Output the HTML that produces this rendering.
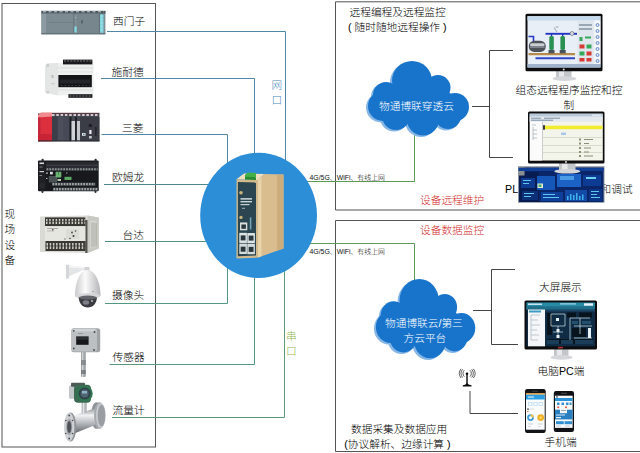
<!DOCTYPE html>
<html lang="zh-CN">
<head>
<meta charset="utf-8">
<title>物通博联 工业物联网拓扑图</title>
<style>
html,body{margin:0;padding:0;background:#fff;}
body{width:640px;height:453px;overflow:hidden;}
svg{display:block;}
text{font-family:"Liberation Sans","Noto Sans CJK SC",sans-serif;font-weight:300;}
.lb{font-size:10.7px;fill:#000;font-weight:300;}
.sm{font-size:6.9px;fill:#111;font-weight:300;}
.wh{font-size:10.7px;fill:#fff;font-weight:300;}
.rd{font-size:10.7px;fill:#d12b2b;}
.fr{fill:none;stroke:#555;stroke-width:1;}
.bk{fill:none;stroke:#444;stroke-width:1;}
</style>
</head>
<body>
<svg width="640" height="453" viewBox="0 0 640 453">
<rect x="0" y="0" width="640" height="453" fill="#ffffff"/>

<!-- ===== frames ===== -->
<g id="frames">
<rect class="fr" x="2" y="3.5" width="153.5" height="443.5" stroke-width="1.2"/>
<path class="fr" d="M640 1.800H335.500V210H640"/>
<path class="fr" d="M640 220.5H335.5V451.5H640"/>
</g>

<!-- ===== wires ===== -->
<g id="wires" fill="none" stroke-width="1">
<path d="M107 31.500H285.500V170" stroke="#5086a6"/>
<path d="M101 78.500H254.500V160" stroke="#5086a6"/>
<path d="M101.500 134.500H227.500V170" stroke="#5086a3"/>
<path d="M104 184.500H210" stroke="#4c8693"/>
<path d="M105 241.500H210" stroke="#4f9189"/>
<path d="M105 303.500H227.500V260" stroke="#549583"/>
<path d="M109.500 364.500H254.500V270" stroke="#59977e"/>
<path d="M112 417.500H284.500V260" stroke="#5e987a"/>
<path d="M300 181.500H414.500V134" stroke="#5d9a5a"/>
<path d="M300 243.500H414.500V282" stroke="#5d9a5a"/>
</g>

<!-- ===== centre circle ===== -->
<ellipse cx="258.600" cy="215.400" rx="58.400" ry="62.600" fill="#2d8ed8"/>
<g id="gateway" transform="translate(0,172) scale(1,1.009) translate(0,-172)">
<!-- top face -->
<polygon points="236.500,179.300 258,180 264.500,174 244,173.600" fill="#f0dfbc"/>
<!-- side face -->
<polygon points="258,180 264.500,174 283.500,174.600 283.500,247.800 258,256.800" fill="#d9bd8e"/>
<polygon points="258,180 261.500,176.800 261.500,255.500 258,256.800" fill="#ead4aa"/>
<polygon points="277,174.400 283.500,174.600 283.500,247.800 277,250.100" fill="#ccae7e"/>
<!-- front face -->
<polygon points="236.500,179.300 258,180 258,256.800 236.500,257.700" fill="#d2ba8c"/>
<polygon points="237.900,182 256,182.500 256,254.800 237.900,255.500" fill="#2b4650"/>
<!-- green terminal -->
<polygon points="245,174.800 248,172.400 256,173 256,179.600 245,179.200" fill="#43b04a"/>
<polygon points="245,176.800 256,177.300 256,179.900 245,179.500" fill="#2b8a34"/>
<!-- antenna connectors -->
<circle cx="241" cy="192.600" r="1.800" fill="#c9b47a"/>
<circle cx="241" cy="217" r="1.700" fill="#c9b47a"/>
<!-- led labels -->
<rect x="240.500" y="198" width="11.500" height="1.300" fill="#e6eef0"/>
<rect x="240.500" y="200.800" width="11.500" height="1.300" fill="#d3dee2"/>
<rect x="240.500" y="203.700" width="9" height="1.200" fill="#c3d0d4"/>
<rect x="242" y="207.500" width="3" height="1" fill="#9fb0b6"/>
<!-- ports -->
<rect x="240" y="222" width="7.300" height="7.800" fill="#d9dfdf"/>
<rect x="241.400" y="224" width="4.500" height="4.300" fill="#2a383e"/>
<rect x="239.300" y="232.300" width="7.600" height="10" fill="#dfe4e4"/>
<rect x="247.300" y="232.500" width="7.600" height="10" fill="#dfe4e4"/>
<rect x="239.300" y="243" width="7.600" height="10.300" fill="#d5dbdb"/>
<rect x="247.300" y="243.200" width="7.600" height="10.300" fill="#d5dbdb"/>
<rect x="240.700" y="234.800" width="4.800" height="5" fill="#2a383e"/>
<rect x="248.700" y="235" width="4.800" height="5" fill="#2a383e"/>
<rect x="240.700" y="246" width="4.800" height="5" fill="#2a383e"/>
<rect x="248.700" y="246.200" width="4.800" height="5" fill="#2a383e"/>
<rect x="249.800" y="217" width="1.600" height="12" fill="#7fb7c9" opacity="0.85"/>
</g>

<!-- ===== clouds ===== -->
<g id="cloud1">
<g fill="#86b6e6" transform="translate(-2,1.5)"><circle cx="412" cy="81" r="20"/><circle cx="438" cy="87.500" r="12.500"/><circle cx="386" cy="95" r="13"/><circle cx="383" cy="106" r="15"/><circle cx="455" cy="107" r="14"/><circle cx="396" cy="116" r="14"/><circle cx="423" cy="119.500" r="16"/><circle cx="448" cy="116" r="13"/><ellipse cx="418" cy="104" rx="38" ry="20"/></g>
<g fill="#1874cb"><circle cx="412" cy="81" r="20"/><circle cx="438" cy="87.500" r="12.500"/><circle cx="386" cy="95" r="13"/><circle cx="383" cy="106" r="15"/><circle cx="455" cy="107" r="14"/><circle cx="396" cy="116" r="14"/><circle cx="423" cy="119.500" r="16"/><circle cx="448" cy="116" r="13"/><ellipse cx="418" cy="104" rx="38" ry="20"/></g>
<text class="wh" x="379" y="110">物通博联穿透云</text>
</g>
<g id="cloud2">
<g transform="translate(7.900,218) translate(367,61) scale(0.984,1.065) translate(-367,-61)">
<g fill="#86b6e6" transform="translate(-2,1.5)"><circle cx="412" cy="81" r="20"/><circle cx="438" cy="87.500" r="12.500"/><circle cx="386" cy="95" r="13"/><circle cx="383" cy="106" r="15"/><circle cx="455" cy="107" r="14"/><circle cx="396" cy="116" r="14"/><circle cx="423" cy="119.500" r="16"/><circle cx="448" cy="116" r="13"/><ellipse cx="418" cy="104" rx="38" ry="20"/></g>
<g fill="#1874cb"><circle cx="412" cy="81" r="20"/><circle cx="438" cy="87.500" r="12.500"/><circle cx="386" cy="95" r="13"/><circle cx="383" cy="106" r="15"/><circle cx="455" cy="107" r="14"/><circle cx="396" cy="116" r="14"/><circle cx="423" cy="119.500" r="16"/><circle cx="448" cy="116" r="13"/><ellipse cx="418" cy="104" rx="38" ry="20"/></g>
</g>
<text class="wh" x="385" y="327.200">物通博联云/第三</text>
<text class="wh" x="403.500" y="342">方云平台</text>
</g>

<!-- ===== brackets ===== -->
<g id="brackets">
<path class="bk" d="M513 50.5H489.5V157.5H513"/>
<path class="bk" d="M472 106.5H489.5"/>
<path class="bk" d="M515 269.5H491.5V344.5H518"/>
<path class="bk" d="M473 310.5H491.5"/>
<path class="bk" d="M470 391V413.500H518" stroke="#666"/>
</g>

<!-- ===== devices ===== -->
<g id="devices">
<defs>
<linearGradient id="steel" x1="0" y1="0" x2="0" y2="1"><stop offset="0" stop-color="#8a8f94"/><stop offset=".3" stop-color="#f0f1f2"/><stop offset=".65" stop-color="#a9adb2"/><stop offset="1" stop-color="#5f6368"/></linearGradient>
<linearGradient id="dome" x1="0" y1="0" x2="1" y2="0"><stop offset="0" stop-color="#c9c9cb"/><stop offset=".4" stop-color="#fbfbfb"/><stop offset="1" stop-color="#b5b5b8"/></linearGradient>
</defs>
<!-- siemens -->
<g id="d1">
<rect x="41.400" y="11" width="64" height="23.300" fill="#7f8e95"/>
<rect x="41.400" y="10.800" width="64" height="2.800" fill="#4c585e"/>
<path d="M43 11.800H104" stroke="#c5ced2" stroke-width="1" stroke-dasharray="3 2.500" fill="none"/>
<rect x="41.400" y="32.800" width="64" height="1.500" fill="#66747a"/>
<rect x="41.400" y="13.600" width="4.600" height="19.200" fill="#8c9ba1"/>
<rect x="46" y="13.600" width="27.500" height="19.200" fill="#7c8b92"/>
<rect x="49" y="22" width="24" height=".7" fill="#6d7b82"/>
<rect x="76.800" y="13.600" width="22" height="19.200" fill="#77868d"/>
<rect x="73.500" y="13.600" width=".8" height="19.200" fill="#5b686e"/>
<rect x="98.900" y="13.600" width=".8" height="19.200" fill="#5b686e"/>
<rect x="74.400" y="26.500" width="2.300" height="6" fill="#86d9e2"/>
<rect x="100" y="14.400" width="3.500" height="18.400" fill="#7fd3de"/>
<path d="M101.700 15V32.500" stroke="#b8ecf1" stroke-width=".8" stroke-dasharray="2 1.500" fill="none"/>
<rect x="81.500" y="20" width="1" height="3.500" fill="#3c474c"/>
<rect x="74.500" y="17" width="2" height="1" fill="#9aa8ae"/>
</g></g>
<!-- schneider -->
<g id="d2">
<polygon points="45,66.500 47,63.500 58,63 93.600,64 93.600,94.500 58,95.400 45,92.500" fill="#eef0f0"/>
<polygon points="45,66.500 47,63.500 58,63 58,95.400 45,92.500" fill="#e4e6e6"/>
<rect x="63" y="59.600" width="29.400" height="4.800" fill="#1a1a1c"/>
<path d="M64 61H92" stroke="#77787c" stroke-width="1.200" stroke-dasharray="2 1.200" fill="none"/>
<rect x="58.400" y="75" width="33.400" height="12.200" fill="#141416"/>
<rect x="60" y="79.500" width="30" height="4" fill="#23252a"/>
<path d="M61 85.500H90" stroke="#3d4046" stroke-width="1" stroke-dasharray="1.500 2" fill="none"/>
<rect x="68.400" y="94.200" width="24" height="3.600" fill="#1a1a1c"/>
<path d="M69.500 96H92" stroke="#77787c" stroke-width="1.200" stroke-dasharray="2 1.200" fill="none"/>
<rect x="58" y="67.500" width="35" height=".8" fill="#d5d8d8"/>
<rect x="58" y="71.500" width="35" height=".8" fill="#dcdfdf"/>
<rect x="58" y="89.500" width="35" height=".8" fill="#d5d8d8"/>
<rect x="46.500" y="64" width="2.500" height="3" fill="#c9cccc"/>
<rect x="46.500" y="91" width="2.500" height="2.500" fill="#c9cccc"/>
<rect x="51.500" y="75" width="2" height="3" fill="#b9bcbc"/>
<rect x="51.500" y="83" width="3" height="1.200" fill="#c4c7c7"/>
</g></g>
<!-- mitsubishi -->
<g id="d3">
<rect x="38" y="113.500" width="61.400" height="27.700" fill="#454853"/>
<path d="M52 114.700H99" stroke="#d9c9cd" stroke-width="2.400" stroke-dasharray="2.500 1.800" fill="none"/>
<rect x="52" y="112.800" width="47.400" height="1.200" fill="#5a3a42"/>
<polygon points="38,115 41,112.800 52,112.800 52,141.200 38,141.200" fill="#dc2f3e"/>
<polygon points="38,115 41,112.800 52,112.800 52,116.500 38,117.500" fill="#f08a8e"/>
<rect x="38" y="117.500" width="2.500" height="23.700" fill="#c4283a"/>
<rect x="38" y="134" width="14" height="7.200" fill="#c72536"/>
<rect x="52" y="117" width="5.500" height="24.200" fill="#3c3f4a"/>
<rect x="58" y="117" width="5.500" height="24.200" fill="#4d505c"/>
<rect x="64" y="117" width="5.500" height="24.200" fill="#474a56"/>
<rect x="69.500" y="117" width="2" height="24.200" fill="#1c1d22"/>
<rect x="71.500" y="121" width="3.600" height="19.600" fill="#cfd3d7"/>
<rect x="75.100" y="117" width="1.800" height="24.200" fill="#1c1d22"/>
<rect x="76.900" y="121" width="3.200" height="19.600" fill="#c3c7cc"/>
<rect x="80.100" y="117" width="19.300" height="24.200" fill="#3a3c46"/>
<rect x="82" y="133" width="3.600" height="2.800" fill="#e3e6e9"/>
<rect x="83" y="133.800" width="1.600" height="1.200" fill="#4a7a8a"/>
<rect x="88.800" y="124" width="3" height="3" fill="#1e1f24"/>
<rect x="89.300" y="130" width="2.200" height="4" fill="#eceef0"/>
<rect x="89" y="136" width="2.800" height="2.500" fill="#bfc3c8"/>
<rect x="95" y="127" width="1.600" height="9" fill="#23242a"/>
<rect x="38" y="140.400" width="61.400" height="1" fill="#2a2c31"/>
</g></g>
<!-- omron -->
<g id="d4">
<rect x="38" y="160.500" width="60.700" height="30.800" rx="1" fill="#17191c"/>
<rect x="41.500" y="158.800" width="2.200" height="3" rx="1" fill="#2c2e32"/><rect x="94.500" y="158.800" width="2.200" height="3" rx="1" fill="#2c2e32"/>
<rect x="41.500" y="190" width="2" height="3" rx="1" fill="#2c2e32"/><rect x="94.500" y="190" width="2" height="3" rx="1" fill="#2c2e32"/>
<rect x="46" y="162" width="52" height="5.500" fill="#26292d"/>
<rect x="46" y="164.800" width="52" height=".8" fill="#4a4e53"/>
<rect x="46" y="167.500" width="52" height="3.300" fill="#33373b"/>
<path d="M46.500 169.200H97.500" stroke="#8d9294" stroke-width="2" stroke-dasharray="1.700 1.100" fill="none"/>
<rect x="52" y="182.500" width="43.500" height="3.400" fill="#3a3e42"/>
<path d="M52.500 184.200H95" stroke="#a2a7a8" stroke-width="2.200" stroke-dasharray="1.700 1.100" fill="none"/>
<rect x="53" y="187.500" width="45.500" height="3.400" fill="#3a3e42"/>
<path d="M53.500 189.200H98" stroke="#a2a7a8" stroke-width="2.200" stroke-dasharray="1.700 1.100" fill="none"/>
<rect x="38.500" y="161.500" width="7" height="28" fill="#1f2124"/>
<rect x="39.500" y="162.500" width="4.500" height="1.600" fill="#d5d7d9"/>
<rect x="39.500" y="166.500" width="3" height="1" fill="#7a7d81"/>
<rect x="39.500" y="171" width="4.500" height="1.200" fill="#c9cbce"/>
<rect x="39.500" y="175" width="2.500" height="1" fill="#7a7d81"/>
<rect x="39.500" y="183" width="5" height="5" fill="#26282c"/>
<rect x="48.800" y="176" width="8.200" height="6.500" fill="#4a5256"/>
<rect x="50" y="171.800" width="2.800" height="2.600" fill="#dfe2e4"/>
<rect x="55.600" y="171.800" width="5.700" height="5.600" rx=".6" fill="#6ab573"/>
<rect x="58" y="172" width=".7" height="2.500" fill="#2f6b3a"/>
<rect x="57.500" y="179" width="3.500" height="2" fill="#b9c9b4"/>
<rect x="64.500" y="176.800" width="7" height="3.200" fill="#5aa864"/>
<rect x="66" y="172.500" width="1.500" height="1" fill="#9a9da0"/>
<rect x="46" y="172.500" width="2" height="1.200" fill="#b9bcbf"/>
<rect x="46" y="178" width="1.500" height="1" fill="#b9bcbf"/>
</g></g>
<!-- delta -->
<g id="d5">
<polygon points="40,216.500 87.500,215.500 98.800,217.500 98.800,248.500 87.500,253 40,252" fill="#dadad5"/>
<polygon points="87.500,215.500 98.800,217.500 98.800,248.500 87.500,253" fill="#c9c9c4"/>
<polygon points="90.500,221 96.500,221.800 96.500,246 90.500,248.500" fill="#e2e2dc"/>
<g stroke="#8f908b" stroke-width=".8"><path d="M92 222V247.500M94 222.300V246.800M96 222.600V246"/></g>
<rect x="85.300" y="220" width="2.200" height="33" fill="#55544f"/>
<rect x="45" y="217.400" width="40.300" height="8.800" fill="#3b3935"/>
<path d="M46 221.500H85" stroke="#d0cfc6" stroke-width="5" stroke-dasharray="1.500 1.700" fill="none"/>
<rect x="45" y="220.800" width="40.300" height="1.200" fill="#3b3935" opacity=".55"/>
<rect x="45.500" y="241" width="40" height="10" fill="#3b3935"/>
<path d="M46.500 246H85" stroke="#d0cfc6" stroke-width="6" stroke-dasharray="1.500 1.700" fill="none"/>
<rect x="45.500" y="245.300" width="40" height="1.300" fill="#3b3935" opacity=".55"/>
<rect x="45" y="226.200" width="40.300" height="14.800" fill="#e6e6e1"/>
<rect x="47" y="228" width="11" height=".9" fill="#a4a49d"/>
<rect x="47" y="230.500" width="7" height=".9" fill="#b4b4ad"/>
<rect x="66" y="229" width="13" height="10" fill="#dcdcd6"/>
<circle cx="72" cy="232.500" r=".9" fill="#4a4a45"/><circle cx="75.500" cy="231" r=".8" fill="#4a4a45"/><circle cx="73.500" cy="236" r="1" fill="#3a3a36"/><circle cx="70" cy="238.500" r=".8" fill="#55554f"/><circle cx="65" cy="239" r=".7" fill="#6a6a64"/>
<rect x="52" y="229" width="1.500" height="1.500" fill="#6a6a64"/>
</g></g>
<!-- camera -->
<g id="d6">
<polygon points="66,264.700 69,264.700 69,278.600 66,278.600" fill="#d5d6d9"/>
<polygon points="69,265.500 83,267 89,268 89,270.500 83,270 69,276.500" fill="#e4e5e7"/>
<polygon points="69,265.500 83,267 89,268 83,268.600 69,267.500" fill="#f4f4f5"/>
<rect x="84.500" y="267" width="5" height="4.500" fill="#d2d3d6"/>
<path d="M75 296C75 282 80 270 87.500 270C95 270 100.500 282 100.500 296Z" fill="url(#dome)"/>
<ellipse cx="87.700" cy="296" rx="12.700" ry="2.800" fill="#d6d6d9"/>
<path d="M78.700 297.500C79 303.500 82.500 307.500 87.800 307.500C93 307.500 96.600 303.500 96.900 297.500Z" fill="#3b3c42"/>
<ellipse cx="87.800" cy="297.600" rx="9.100" ry="2" fill="#63646b"/>
<ellipse cx="86" cy="302.500" rx="3.200" ry="2.200" fill="#7d7f88"/>
<circle cx="92" cy="301" r=".9" fill="#c9cad0"/>
<circle cx="93" cy="291.500" r=".6" fill="#77787d"/>
</g></g>
<!-- sensor -->
<g id="d7">
<rect x="81" y="350" width="4.800" height="27" rx="1" fill="#a1a5a8"/>
<rect x="82" y="350" width="1.300" height="27" fill="#d2d4d6"/>
<rect x="81" y="360" width="4.800" height="5" fill="#7d8184" opacity=".8"/>
<rect x="81" y="370" width="4.800" height="4" fill="#6f7376" opacity=".8"/>
<rect x="71.400" y="328.200" width="28.800" height="24" rx="2.500" fill="#9fa3a5"/>
<rect x="71.400" y="328.200" width="25.600" height="23.300" rx="2.500" fill="#bcc0c2"/>
<rect x="73" y="329.200" width="22" height="2" rx="1" fill="#d3d6d7"/>
<rect x="76.200" y="336.400" width="12.400" height="8.400" fill="#16181b"/>
<rect x="77" y="337.200" width="10.800" height="2.500" fill="#2d3136"/>
<rect x="78" y="333" width="5" height=".8" fill="#8c9092"/>
<circle cx="73.800" cy="330.800" r=".9" fill="#44474a"/><circle cx="94.500" cy="332" r=".9" fill="#44474a"/>
<circle cx="73.800" cy="348.500" r=".9" fill="#44474a"/><circle cx="94" cy="350" r=".9" fill="#44474a"/>
</g></g>
<!-- flow meter -->
<g id="d8">
<ellipse cx="96.500" cy="415.500" rx="5.500" ry="13.300" fill="#8f9398"/>
<polygon points="71,416.500 97,407.500 99,423.500 73,434" fill="url(#steel)"/>
<ellipse cx="99.500" cy="415.500" rx="5.500" ry="13.300" fill="#a7abb0"/>
<ellipse cx="100.800" cy="415.500" rx="4.800" ry="12.300" fill="#c9ccd0"/>
<ellipse cx="101.500" cy="415.500" rx="3.800" ry="10.800" fill="#9a9ea3"/>
<rect x="81.600" y="400" width="5.200" height="13" fill="#b3b7bb"/>
<rect x="82.800" y="400" width="1.500" height="13" fill="#e3e5e7"/>
<rect x="69" y="385.400" width="7.500" height="13.300" rx="1.500" fill="#c3c6c9"/>
<rect x="71" y="382.800" width="14" height="4" rx="1" fill="#4d5a55"/>
<rect x="74" y="384.800" width="17" height="18" rx="4" fill="#3c6a54"/>
<circle cx="84.600" cy="393.500" r="8.100" fill="#2e7550"/>
<circle cx="84.600" cy="393.500" r="6" fill="#31424a"/>
<circle cx="84.600" cy="393.500" r="4" fill="#4f6672"/>
<rect x="82" y="391" width="5" height="2.500" fill="#8fb2c4"/>
<ellipse cx="70.500" cy="427" rx="5.800" ry="14.600" fill="#8f9398"/>
<ellipse cx="69.200" cy="427" rx="5.200" ry="14.300" fill="#cfd2d5"/>
<ellipse cx="69.200" cy="427" rx="3" ry="8.500" fill="#a4a8ac"/>
<ellipse cx="69.200" cy="427" rx="2.100" ry="6" fill="#4f5257"/>
<g fill="#44474c"><circle cx="69.200" cy="415.500" r=".9"/><circle cx="69.200" cy="438.500" r=".9"/><circle cx="65.800" cy="420.500" r=".8"/><circle cx="65.800" cy="433.500" r=".8"/><circle cx="72.500" cy="420.500" r=".8"/><circle cx="72.500" cy="433.500" r=".8"/></g>
</g></g>
</g>
</g>

<!-- ===== monitors ===== -->
<g id="monitors">
<!-- monitor 1 : SCADA screen -->
<g id="mon1">
<rect x="556" y="70" width="15.500" height="8" fill="#c4c7ca"/>
<rect x="559" y="70" width="5" height="8" fill="#e6e8ea"/>
<ellipse cx="564.500" cy="78.600" rx="12" ry="2.400" fill="#d4d6d9"/>
<rect x="525.500" y="13.700" width="77" height="57.600" rx="1.500" fill="#0d0d0f"/>
<rect x="527.500" y="16.200" width="73" height="51.300" fill="#e9eff6"/>
<rect x="527.500" y="16.200" width="73" height="4.300" fill="#c6daee"/>
<rect x="527.500" y="64" width="73" height="3.500" fill="#9fb4cc"/>
<rect x="577.500" y="20.500" width="16" height="43.500" fill="#dfe6ee"/>
<rect x="594.500" y="20.500" width="6" height="43.500" fill="#f6f8fa"/>
<!-- pipes -->
<path d="M528.500 36.500H533.500V41" fill="none" stroke="#2a3ac8" stroke-width="1.600"/>
<path d="M545.500 33.800H577" fill="none" stroke="#2434c4" stroke-width="1.900"/>
<path d="M551.500 33.800V38M562.700 33.800V38" fill="none" stroke="#2434c4" stroke-width="1.300"/>
<path d="M528.600 54.200H575" fill="none" stroke="#b58a4a" stroke-width="2.300"/>
<path d="M535.500 58.200H575" fill="none" stroke="#3046c8" stroke-width="2"/>
<!-- tank -->
<rect x="528.800" y="40.700" width="17" height="11.200" rx="5.500" fill="#4d5158"/>
<rect x="530" y="43.300" width="14.600" height="3" rx="1.500" fill="#c9ced3"/>
<rect x="530" y="46.300" width="14.600" height="1.500" fill="#8a9099"/>
<!-- pumps -->
<rect x="549.300" y="36" width="4.500" height="14" rx="1.500" fill="#2a9152"/>
<rect x="560.400" y="36" width="4.600" height="14" rx="1.500" fill="#2a9152"/>
<rect x="548.500" y="50" width="6" height="3.300" fill="#4a525c"/>
<rect x="559.700" y="50" width="6" height="3.300" fill="#4a525c"/>
<circle cx="572" cy="33.500" r="2" fill="#d8dde3" stroke="#55606a" stroke-width=".6"/>
<path d="M554 27.500L557 32M555.500 27H558.500" stroke="#6a7682" stroke-width=".6" fill="none"/>
<!-- right panel buttons -->
<rect x="579" y="24" width="13" height="2" fill="#9aa7b5"/>
<rect x="579" y="28" width="13" height="2" fill="#9aa7b5"/>
<rect x="579.500" y="37" width="3" height="4" fill="#3aa85a"/>
<rect x="585" y="36.500" width="6" height="2" fill="#3aa85a"/>
<rect x="579.500" y="44.500" width="5" height="4" fill="#d63b34"/>
<rect x="586.500" y="44.500" width="5" height="4" fill="#35a95a"/>
<rect x="579.500" y="51.500" width="5" height="4" fill="#35a95a"/>
<rect x="586.500" y="51.500" width="5" height="4" fill="#d63b34"/>
<rect x="579.500" y="58" width="5" height="3.500" fill="#d63b34"/>
<rect x="586.500" y="58" width="5" height="3.500" fill="#d63b34"/>
<g fill="#dfe8f6" stroke="#4a74c0" stroke-width=".8"><circle cx="597.500" cy="25" r="1.500"/><circle cx="597.500" cy="31" r="1.500"/><circle cx="597.500" cy="37" r="1.500"/><circle cx="597.500" cy="43" r="1.500"/><circle cx="597.500" cy="49" r="1.500"/><circle cx="597.500" cy="55" r="1.500"/><circle cx="597.500" cy="61" r="1.500"/></g>
<circle cx="563.700" cy="69.400" r="1" fill="#d8d8d8"/>
</g>

<!-- dashboard banner -->
<text class="lb" x="505" y="193">PLC远程上下载程序和调试</text>
<g id="dash">
<rect x="518" y="166.200" width="86.500" height="36.600" fill="#8d97a3"/>
<rect x="519" y="167.500" width="84.500" height="34.500" fill="#0a2568"/>
<rect x="519" y="172" width="20" height="30" fill="#081c52"/>
<rect x="519" y="167.500" width="5.500" height="8" fill="#8b8f92"/>
<rect x="518.500" y="168" width="85.300" height="3" fill="#123f96"/>
<rect x="521" y="178" width="14" height="10" fill="#0d3a90"/>
<rect x="522" y="191" width="16" height="9" fill="#0c2f78"/>
<rect x="537" y="176" width="18" height="14" fill="#1557b8"/>
<rect x="537.500" y="183.500" width="5.500" height="4.500" fill="#e3f0d6"/>
<rect x="538.500" y="184.500" width="3" height="2.500" fill="#4aa868"/>
<rect x="557" y="174" width="24" height="13" fill="#1b62c4"/>
<rect x="560" y="176" width="14" height="4" fill="#4c9be6"/>
<rect x="583" y="175" width="18" height="11" fill="#0d3a92"/>
<rect x="586" y="177" width="10" height="2" fill="#6fd0f0"/>
<rect x="541" y="192" width="22" height="9" fill="#0e3f9a"/>
<rect x="565" y="190" width="22" height="11" fill="#134aa6"/>
<g fill="#3fb3ec"><rect x="567" y="196" width="1.500" height="4"/><rect x="570" y="194" width="1.500" height="6"/><rect x="573" y="195" width="1.500" height="5"/><rect x="576" y="193" width="1.500" height="7"/><rect x="579" y="196" width="1.500" height="4"/><rect x="582" y="194.500" width="1.500" height="5.500"/></g>
<rect x="589" y="189" width="13" height="12" fill="#0c3486"/>
<g fill="#5fc6ee"><rect x="523" y="180" width="8" height="1"/><rect x="523" y="183" width="6" height="1"/><rect x="524" y="193" width="10" height="1"/><rect x="524" y="196" width="7" height="1"/><rect x="543" y="194" width="12" height="1"/><rect x="543" y="197" width="16" height="1"/><rect x="591" y="191" width="8" height="1"/><rect x="591" y="194" width="6" height="1"/><rect x="591" y="197" width="9" height="1"/></g>
</g>

<!-- monitor 2 : PLC programming -->
<g id="mon2">
<rect x="559" y="162" width="16.500" height="8.500" fill="#c4c7ca"/>
<rect x="562" y="162" width="5.500" height="8.500" fill="#e6e8ea"/>
<ellipse cx="567.300" cy="171.300" rx="13" ry="2.300" fill="#d4d6d9"/>
<rect x="528" y="111.500" width="76.500" height="52" rx="1.500" fill="#0d0d0f"/>
<rect x="529.800" y="113.700" width="73" height="46.800" fill="#f3f4ea"/>
<rect x="529.500" y="113.700" width="73" height="3" fill="#b9c9dc"/>
<rect x="529.500" y="116.700" width="73" height="5" fill="#e3e9ee"/>
<rect x="529.800" y="121.700" width="12.200" height="38.800" fill="#fbfbfb"/>
<rect x="542" y="121.700" width=".7" height="37.800" fill="#b8bcc0"/>
<rect x="543" y="125.700" width="59.500" height="3.500" fill="#f3ec2c"/>
<rect x="543" y="125.200" width="2" height="4.500" fill="#3a3a3a"/>
<rect x="561" y="132.500" width="5" height="2.500" fill="#a9c8ea"/>
<g stroke="#c9c9b8" stroke-width=".6"><path d="M543 137.500H602.500M543 145.500H602.500M543 152.500H602.500"/></g>
<g fill="#8a8f7a"><rect x="579" y="138.500" width="2" height="2"/><rect x="584" y="139" width="9" height="1"/><rect x="579" y="142.500" width="2" height="2"/><rect x="584" y="143" width="5" height="1"/><rect x="579" y="147" width="2" height="2"/><rect x="584" y="147.500" width="7" height="1"/><rect x="579" y="151" width="2" height="2"/><rect x="584" y="151.500" width="5" height="1"/><rect x="579" y="155" width="2" height="2"/><rect x="584" y="155.500" width="9" height="1"/></g>
<g stroke="#7d8891" stroke-width=".5" fill="none"><path d="M532 125H536M533 127V140M533 130H537M533 134H537M533 138H537"/></g>
<g fill="#7c8fa5"><rect x="531" y="117.700" width="10" height="1"/><rect x="544" y="117.700" width="16" height="1"/><rect x="531" y="119.700" width="22" height="1"/><rect x="592" y="114.500" width="9" height="1.400" fill="#e6edf5"/></g>
<circle cx="566" cy="162" r="1" fill="#d8d8d8"/>
</g>

<!-- monitor 3 : big screen / PC -->
<g id="mon3">
<rect x="554" y="348" width="14.500" height="8.500" fill="#c4c7ca"/>
<rect x="557" y="348" width="5" height="8.500" fill="#e6e8ea"/>
<ellipse cx="561.500" cy="357.400" rx="11" ry="2.300" fill="#d4d6d9"/>
<rect x="524.500" y="300.500" width="72.500" height="49" rx="1.500" fill="#0d0d0f"/>
<rect x="526.500" y="302.500" width="68.500" height="43.800" fill="#0f2c44"/>
<rect x="526.500" y="302.500" width="68.500" height="7" fill="#2a8ba6"/>
<rect x="526.500" y="306.300" width="68.500" height="3.200" fill="#1f6f8a"/>
<rect x="528" y="303.500" width="14" height="1.400" fill="#d5eef8"/>
<rect x="560" y="303.300" width="16" height="1.200" fill="#9fd6ea"/>
<rect x="584" y="303.300" width="9" height="2.400" fill="#e9f4f8"/>
<rect x="528" y="309.500" width="17" height="36.800" fill="#f4f6f8"/>
<rect x="529" y="310.500" width="12" height="2" fill="#3d9cc4"/>
<g stroke="#8c99a6" stroke-width=".5" fill="none"><path d="M531 315H540M531 315V340M531 320H538M531 325H540M531 330H537M531 335H539M531 340H538"/></g>
<rect x="545" y="309.500" width="50" height="2" fill="#1c4766"/>
<g fill="#07141d"><rect x="547" y="313" width="5" height="22"/><rect x="567" y="312.500" width="9" height="5"/><rect x="579" y="312.500" width="13" height="5"/><rect x="572" y="328" width="14" height="9"/><rect x="547" y="339" width="46" height="5"/></g>
<g stroke="#cfe3ee" stroke-width=".7" fill="none"><path d="M551 314H565V326H551zM558 326V338M553 332H563M570 318H590M570 318V340M580 318V334M574 326H592M574 338H592"/></g>
<g fill="#e8f2f6"><rect x="556" y="318" width="3" height="3"/><rect x="556.500" y="329" width="3" height="3"/><rect x="556.500" y="335" width="3" height="3"/><rect x="588" y="328" width="3" height="10"/><rect x="572" y="321" width="6" height="3" fill="#23506f"/><rect x="582" y="321" width="9" height="3" fill="#23506f"/></g>
<rect x="547" y="340" width="12" height="4" fill="#1a3e5a"/><rect x="561" y="340" width="12" height="4" fill="#1a3e5a"/><rect x="575" y="340" width="18" height="4" fill="#1a3e5a"/>
<rect x="558" y="346.800" width="5" height="1.600" fill="#b03030"/>
</g>

<!-- phones -->
<g id="phone1">
<rect x="525" y="389" width="20.700" height="44" rx="2.200" fill="#131417"/>
<rect x="526" y="393.300" width="18.700" height="36.400" fill="#fafbfc"/>
<rect x="526" y="393.300" width="18.700" height="1.400" fill="#e79b2b"/>
<rect x="526" y="394.700" width="18.700" height="4.800" fill="#2c9fe3"/>
<rect x="528" y="396.500" width="6" height="1.100" fill="#d9effb"/>
<rect x="532" y="390.800" width="6" height=".9" rx=".4" fill="#3a3c40"/>
<g fill="none" stroke="#b7d9f0" stroke-width=".7"><rect x="528.500" y="402.500" width="3.500" height="3"/><rect x="533.700" y="402.500" width="3.500" height="3"/><rect x="539" y="402.500" width="3.500" height="3"/></g>
<rect x="527" y="408.500" width="2" height="1.200" fill="#4a4d52"/><rect x="530" y="408.700" width="4" height=".8" fill="#c9d3db"/>
<rect x="527" y="411" width="1.500" height="1" fill="#e0773a"/>
<circle cx="530.500" cy="417.600" r="2.500" fill="none" stroke="#3a9be0" stroke-width="1.800"/>
<path d="M530.500 415.100a2.500 2.500 0 0 1 2.500 2.500" fill="none" stroke="#f3c64a" stroke-width="1.800"/>
<circle cx="540.700" cy="417.600" r="2.500" fill="#f7d24a" stroke="#f0ae2a" stroke-width="1.800"/>
<g fill="#c9d3db"><rect x="528" y="423.500" width="5" height="1"/><rect x="538" y="423.500" width="5" height="1"/><rect x="528" y="426" width="3" height=".8"/><rect x="538" y="426" width="3" height=".8"/></g>
</g>
<g id="phone2">
<rect x="553.800" y="390.900" width="20.200" height="41.100" rx="2.200" fill="#101114"/>
<rect x="555" y="395.700" width="17.600" height="32.200" fill="#f7f9fb"/>
<rect x="555" y="398" width="17.600" height="3" fill="#2d93d8"/>
<rect x="556" y="396.300" width="2" height="1.200" fill="#55585d"/>
<g fill="#3a8fd0"><rect x="557" y="402.500" width="2.500" height="2.500"/><rect x="561.500" y="402.500" width="2.500" height="2.500"/><rect x="566" y="402.500" width="2.500" height="2.500"/><rect x="569.500" y="402.500" width="2" height="2.500"/></g>
<g fill="#e0604e"><rect x="557.200" y="406.500" width="2" height="1.600"/><rect x="565" y="406.500" width="2" height="1.600"/></g>
<rect x="555" y="409.700" width="17.600" height="9.700" fill="#2a7fc0"/>
<rect x="560" y="408.800" width="7" height="4.400" fill="#f4f7fa"/>
<rect x="561" y="410" width="5" height=".8" fill="#8a99a8"/>
<rect x="556" y="414.500" width="9" height="1" fill="#cfe6f6"/>
<rect x="556" y="417" width="5" height="1.200" fill="#eaf4fb"/>
<rect x="556" y="421.200" width="7.800" height="3" fill="#2f8fd0"/>
<rect x="564.600" y="421.200" width="7.400" height="3" fill="#2f8fd0"/>
<rect x="556" y="425.600" width="5" height=".8" fill="#b9c6d2"/><rect x="565" y="425.600" width="5" height=".8" fill="#b9c6d2"/>
<rect x="561" y="392.800" width="6" height=".9" rx=".4" fill="#4a4d52"/>
</g>

<!-- antenna -->
<g id="antenna">
<path d="M466.300 374.500H467.700V383C467.700 384.600 469.500 385 471.500 385.200V386.500H462.800V385.200C464.800 385 466.300 384.600 466.300 383Z" fill="#0a0a0a"/>
<circle cx="467" cy="373.800" r="1.300" fill="#0a0a0a"/>
<g fill="none" stroke="#4a4a4a" stroke-width=".9"><path d="M464.300 370.200a4.500 4.500 0 0 0 0 6.400"/><path d="M470 370.200a4.500 4.500 0 0 1 0 6.400"/><path d="M462.600 369.300a6 6 0 0 0 0 8.200"/><path d="M471.700 369.300a6 6 0 0 1 0 8.200"/><path d="M461 368.800a7.500 7.500 0 0 0 0 9.200"/><path d="M473.400 368.800a7.500 7.500 0 0 1 0 9.200"/></g>
</g>
</g>
</g>

<!-- ===== text ===== -->
<g id="labels">
<text class="lb" x="113" y="25">西门子</text>
<text class="lb" x="111.500" y="76.300">施耐德</text>
<text class="lb" x="122" y="131.600">三菱</text>
<text class="lb" x="112" y="181">欧姆龙</text>
<text class="lb" x="122.500" y="238.700">台达</text>
<text class="lb" x="112" y="299">摄像头</text>
<text class="lb" x="112.500" y="361.300">传感器</text>
<text class="lb" x="112.500" y="413.500">流量计</text>

<text class="lb" x="4.500" y="217.800">现</text>
<text class="lb" x="4.500" y="233.300">场</text>
<text class="lb" x="4.500" y="248.800">设</text>
<text class="lb" x="4.500" y="264.300">备</text>

<text x="271.500" y="88.800" font-size="10.7" fill="#4a88bc">网</text>
<text x="271.500" y="104" font-size="10.7" fill="#4a88bc">口</text>
<text x="286" y="339.500" font-size="10.7" fill="#93b552">串</text>
<text x="286" y="355" font-size="10.7" fill="#93b552">口</text>

<text class="sm" x="309.500" y="180.200">4G/5G、WiFi、有线上网</text>
<text class="sm" x="309.500" y="254">4G/5G、WiFi、有线上网</text>

<text class="lb" x="349.500" y="16">远程编程及远程监控</text>
<text class="lb" x="348" y="31.400">( 随时随地远程操作 )</text>

<text class="rd" x="420" y="204">设备远程维护</text>
<text class="rd" x="420" y="234.200">设备数据监控</text>

<text class="lb" x="515.500" y="94.200">组态远程程序监控和控</text>
<text class="lb" x="563.500" y="109">制</text>

<text class="lb" x="539" y="291">大屏展示</text>
<text class="lb" x="537.500" y="374.500">电脑PC端</text>
<text class="lb" x="544.500" y="445.800">手机端</text>

<text class="lb" x="351" y="432.700">数据采集及数据应用</text>
<text class="lb" x="344.300" y="447.700">(协议解析、边缘计算 )</text>
</g>
</svg>
</body>
</html>
